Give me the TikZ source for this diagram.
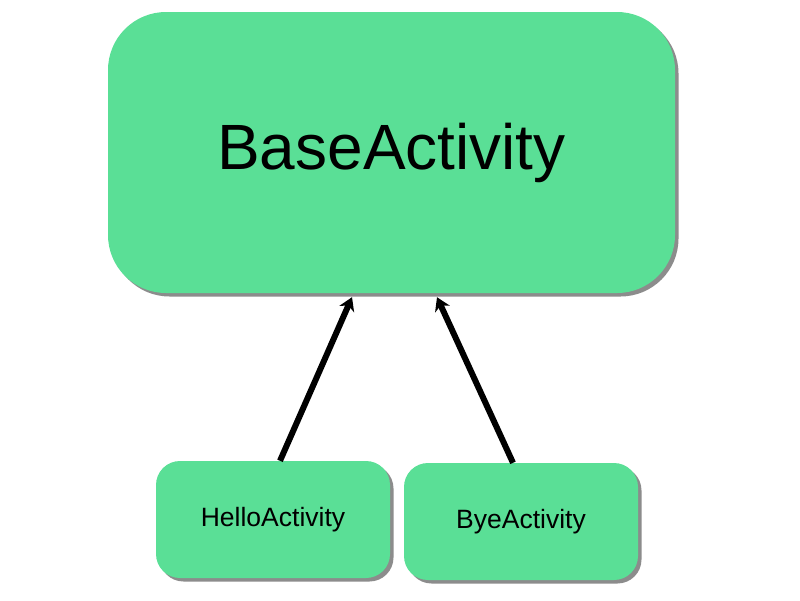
\documentclass[tikz,border=0pt]{standalone}
\usepackage{fontspec}
\setmainfont{Liberation Sans}
\usetikzlibrary{arrows.meta,shadows,calc}
\definecolor{boxgreen}{HTML}{5ADF96}
\tikzset{
  cls/.style={fill=boxgreen, draw=none, inner sep=0pt,
    drop shadow={shadow xshift=3.5pt, shadow yshift=-3.5pt, fill=black, opacity=0.45}},
  bigcls/.style={cls, rounded corners=58pt, minimum width=567pt, minimum height=281pt, font=\fontsize{64}{70}\selectfont},
  smallcls/.style={cls, rounded corners=24pt, minimum width=234pt, minimum height=117pt, font=\fontsize{26.5}{30}\selectfont},
  inherit/.style={line width=6pt, -{Stealth[length=13pt,width=16pt,inset=4pt]}}
}
\begin{document}
\begin{tikzpicture}[x=1pt,y=-1pt]
\useasboundingbox (0,0) rectangle (800,600);
\node[bigcls] (base) at (391.5,152.5) {BaseActivity};
\node[smallcls] (hello) at (273,519.5) {HelloActivity};
\node[smallcls] (bye) at (521,521.5) {ByeActivity};
\draw[inherit] ([xshift=7pt]hello.north) -- ([xshift=-39.5pt,yshift=-4pt]base.south);
\draw[inherit] ([xshift=-8pt]bye.north) -- ([xshift=45.5pt,yshift=-4pt]base.south);
\end{tikzpicture}
\end{document}
